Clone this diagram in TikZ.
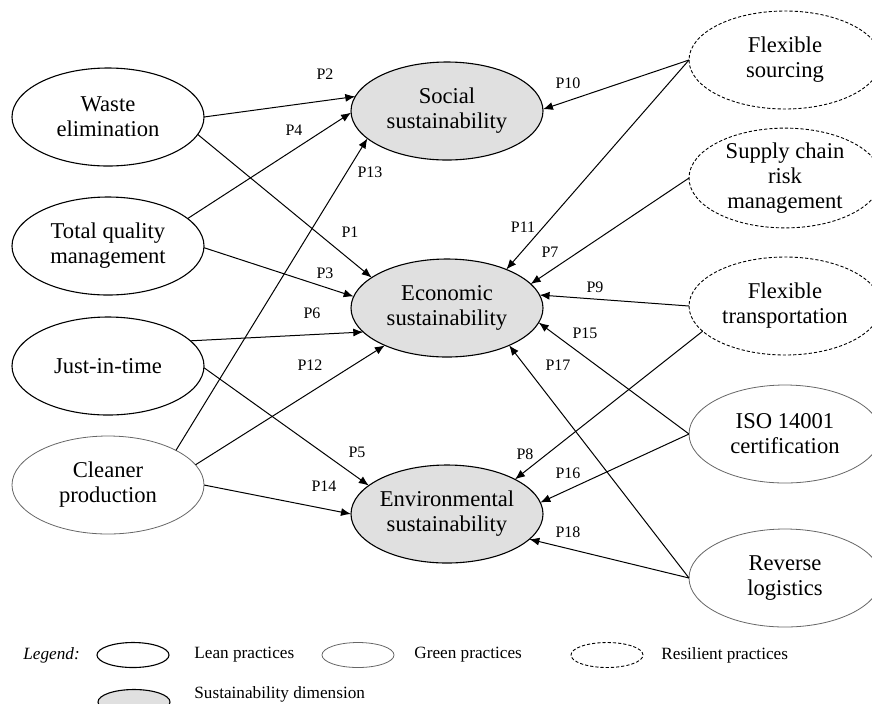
\documentclass[tikz,border=0pt]{standalone}
\usepackage{fontspec}
\setmainfont{Liberation Serif}
\usepackage{tikz}
\usetikzlibrary{shapes,arrows.meta,positioning}
\tikzstyle{lean} = [ellipse, draw, line width=0.55pt, minimum width=96pt,
    minimum height=49pt, inner sep=0pt, outer sep=0pt, align=center,
    font=\fontsize{11.3}{12.5}\selectfont]
\tikzstyle{greenpr} = [lean, draw=black!60, line width=0.4pt]
\tikzstyle{resilient} = [lean, line width=0.45pt, dash pattern=on 1.6pt off 1pt]
\tikzstyle{sustain} = [lean, fill=black!12]
\tikzstyle{small} = [minimum width=36pt, minimum height=12.5pt]
\tikzstyle{line} = [draw, line width=0.5pt, -{Latex[length=5pt,width=4pt]}]
\tikzstyle{plabel} = [inner sep=0pt, font=\fontsize{8}{9}\selectfont]
\tikzstyle{ltext} = [inner sep=0pt, anchor=west, font=\fontsize{8.6}{10}\selectfont]

\begin{document}
\begin{tikzpicture}[x=0.5pt, y=-0.5pt]
        \useasboundingbox (0,0) rectangle (872,703);
        % Practices (left)
        \node [lean] (waste) at (108,117) {Waste\\elimination};
        \node [lean] (tqm) at (108,246) {Total quality\\management};
        \node [lean] (jit) at (108,366) {Just-in-time};
        \node [greenpr] (cleaner) at (108,485) {Cleaner\\production};
        % Sustainability dimensions
        \node [sustain] (social) at (447,111) {Social\\sustainability};
        \node [sustain] (econ) at (447,308) {Economic\\sustainability};
        \node [sustain] (env) at (447,514) {Environmental\\sustainability};
        % Practices (right)
        \node [resilient] (sourcing) at (785,60) {Flexible\\sourcing};
        \node [resilient] (scrm) at (785,178) {Supply chain\\risk\\management};
        \node [resilient] (transport) at (785,306) {Flexible\\transportation};
        \node [greenpr] (iso) at (785,434) {ISO 14001\\certification};
        \node [greenpr] (reverse) at (785,578) {Reverse\\logistics};

        % Connections
        \path [line] (waste.0) -- (social.171);
        \path [line] (tqm.19) -- (social.181);
        \path [line] (cleaner.27) -- (social.199);
        \path [line] (sourcing.180) -- (social.1);
        \path [line] (waste.349) -- (econ.158);
        \path [line] (tqm.359) -- (econ.173);
        \path [line] (jit.17) -- (econ.196);
        \path [line] (cleaner.13) -- (econ.211);
        \path [line] (sourcing.180) -- (econ.33);
        \path [line] (scrm.180) -- (econ.16);
        \path [line] (transport.180) -- (econ.8);
        \path [line] (iso.180) -- (econ.351);
        \path [line] (reverse.180) -- (econ.329);
        \path [line] (jit.359) -- (env.160);
        \path [line] (cleaner.0) -- (env.180);
        \path [line] (transport.197) -- (env.27);
        \path [line] (iso.180) -- (env.7);
        \path [line] (reverse.180) -- (env.343);

        % Path labels
        \node [plabel] (p1) at (350,232) {P1};
        \node [plabel] (p2) at (325,74) {P2};
        \node [plabel] (p3) at (325,273) {P3};
        \node [plabel] (p4) at (294,130) {P4};
        \node [plabel] (p5) at (357,452) {P5};
        \node [plabel] (p6) at (312,313) {P6};
        \node [plabel] (p7) at (550,252) {P7};
        \node [plabel] (p8) at (525,454) {P8};
        \node [plabel] (p9) at (595,287) {P9};
        \node [plabel] (p10) at (568,83) {P10};
        \node [plabel] (p11) at (523,227) {P11};
        \node [plabel] (p12) at (310,365) {P12};
        \node [plabel] (p13) at (370,172) {P13};
        \node [plabel] (p14) at (324,486) {P14};
        \node [plabel] (p15) at (585,333) {P15};
        \node [plabel] (p16) at (568,473) {P16};
        \node [plabel] (p17) at (558,365) {P17};
        \node [plabel] (p18) at (568,532) {P18};

        % Legend
        \node [ltext] (legend) at (23,655) {\itshape Legend:};
        \node [lean, small] (kLean) at (133,655) {};
        \node [ltext] (tLean) at (194,655) {Lean practices};
        \node [greenpr, small] (kGreen) at (358,655) {};
        \node [ltext] (tGreen) at (414,655) {Green practices};
        \node [resilient, small] (kRes) at (607,655) {};
        \node [ltext] (tRes) at (661,655) {Resilient practices};
        \node [sustain, small] (kSus) at (134,702) {};
        \node [ltext] (tSus) at (194,694) {Sustainability dimension};
    \end{tikzpicture}
\end{document}
